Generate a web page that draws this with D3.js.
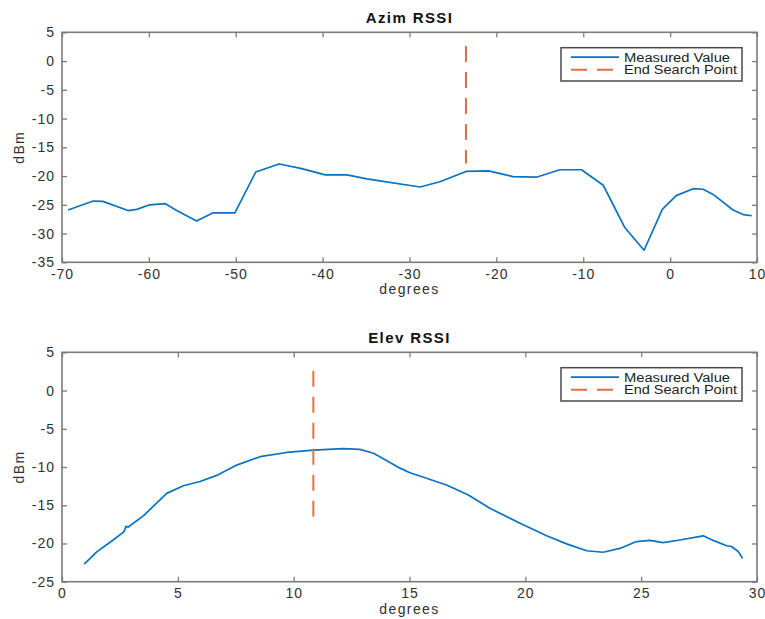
<!DOCTYPE html>
<html>
<head>
<meta charset="utf-8">
<script src="https://cdn.jsdelivr.net/npm/d3@7"></script>
<style>
  html, body { margin: 0; padding: 0; background: #fff; }
  svg { display: block; font-family: "Liberation Sans", Arial, Helvetica, sans-serif; }
</style>
</head>
<body>
<svg id="chart" width="765" height="619"></svg>
<script>
// Azimuth sweep: angle (degrees) and received signal strength (dBm)
const azimDeg = [-69.3, -66.4, -65.3, -62.4, -61.4, -59.9, -58.1, -56.8, -54.5, -52.6, -50.1,
                 -47.7, -45.0, -42.4, -39.7, -37.2, -34.9, -28.8, -26.5, -23.5, -20.9, -18.1,
                 -15.4, -12.7, -10.2, -7.7, -5.2, -3.0, -0.9, 0.7, 2.65, 3.8, 4.95, 7.25, 8.4, 9.4];
const azimRssi = [-25.9, -24.35, -24.4, -26.0, -25.8, -25.0, -24.8, -26.0, -27.8, -26.4, -26.4,
                  -19.3, -17.9, -18.7, -19.8, -19.8, -20.5, -21.9, -21.0, -19.2, -19.1, -20.1,
                  -20.2, -18.9, -18.9, -21.6, -29.0, -32.9, -25.8, -23.4, -22.2, -22.3, -23.2, -25.9, -26.7, -26.9];
const azimEndDeg = [-23.5, -23.5];
const azimEndRssi = [2.6, -17.8];

// Elevation sweep
const elevDeg = [0.96, 1.5, 2.21, 2.68, 2.76, 2.86, 3.51, 4.52, 5.24, 5.96, 6.68, 7.54, 8.55, 9.7,
                 10.85, 12.14, 12.86, 13.44, 13.72, 14.59, 15.02, 16.6, 17.54, 18.47, 19.77, 20.92,
                 21.78, 22.65, 23.36, 24.08, 24.8, 25.38, 25.95, 26.67, 27.68, 28.11, 28.69, 28.9, 29.19, 29.38];
const elevRssi = [-22.7, -21.1, -19.55, -18.45, -17.75, -17.85, -16.4, -13.45, -12.45, -11.9, -11.1, -9.75, -8.65, -8.1,
                  -7.8, -7.6, -7.7, -8.2, -8.65, -10.15, -10.75, -12.35, -13.65, -15.4, -17.35, -19.0,
                  -20.05, -20.95, -21.15, -20.65, -19.75, -19.6, -19.9, -19.55, -19.0, -19.6, -20.3, -20.4, -21.05, -21.95];
const elevEndDeg = [10.85, 10.85];
const elevEndRssi = [2.6, -16.5];

const azimXTicks = [-70, -60, -50, -40, -30, -20, -10, 0, 10];
const azimYTicks = [5, 0, -5, -10, -15, -20, -25, -30, -35];
const elevXTicks = [0, 5, 10, 15, 20, 25, 30];
const elevYTicks = [5, 0, -5, -10, -15, -20, -25];

const legendLabels = ["Measured Value", "End Search Point"];
const titles = ["Azim RSSI", "Elev RSSI"];
const xLabel = "degrees";
const yLabel = "dBm";

const BLUE = "#0a72c0";
const ORANGE = "#e2713f";
const FRAME = "#7a7a7a";
const TEXT = "#303030";

// plain hyphen-minus labels
const fmt = d => String(d);

const svg = d3.select("#chart");

const panels = [
  { title: titles[0], top: 32.3, bottom: 262.3, xDomain: [-70, 10], yDomain: [-35, 5],
    xTicks: azimXTicks, yTicks: azimYTicks, deg: azimDeg, rssi: azimRssi,
    endDeg: azimEndDeg, endRssi: azimEndRssi },
  { title: titles[1], top: 352.3, bottom: 581.7, xDomain: [0, 30], yDomain: [-25, 5],
    xTicks: elevXTicks, yTicks: elevYTicks, deg: elevDeg, rssi: elevRssi,
    endDeg: elevEndDeg, endRssi: elevEndRssi }
];

const left = 62, right = 757;

panels.forEach(p => {
  const x = d3.scaleLinear().domain(p.xDomain).range([left, right]);
  const y = d3.scaleLinear().domain(p.yDomain).range([p.bottom, p.top]);
  const g = svg.append("g");

  const styleAxis = sel => {
    sel.select(".domain").remove();
    sel.selectAll(".tick line").attr("stroke", FRAME).attr("stroke-width", 1.3);
    sel.selectAll(".tick text").attr("fill", TEXT).attr("font-size", 14)
      .attr("letter-spacing", "1px").attr("font-family", "Liberation Sans, Arial, sans-serif");
  };

  // bottom and left axes with labels; ticks point inward
  g.append("g").attr("transform", `translate(0,${p.bottom})`)
    .call(d3.axisBottom(x).tickValues(p.xTicks).tickFormat(fmt).tickSizeInner(-5).tickSizeOuter(0).tickPadding(6.5))
    .call(styleAxis);
  g.append("g").attr("transform", `translate(${left},0)`)
    .call(d3.axisLeft(y).tickValues(p.yTicks).tickFormat(fmt).tickSizeInner(-5).tickSizeOuter(0).tickPadding(7))
    .call(styleAxis);
  // top and right mirrored ticks without labels
  g.append("g").attr("transform", `translate(0,${p.top})`)
    .call(d3.axisTop(x).tickValues(p.xTicks).tickSizeInner(-5).tickSizeOuter(0).tickFormat(""))
    .call(styleAxis);
  g.append("g").attr("transform", `translate(${right},0)`)
    .call(d3.axisRight(y).tickValues(p.yTicks).tickSizeInner(-5).tickSizeOuter(0).tickFormat(""))
    .call(styleAxis);

  // axes box
  g.append("rect")
    .attr("x", left).attr("y", p.top)
    .attr("width", right - left).attr("height", p.bottom - p.top)
    .attr("fill", "none").attr("stroke", FRAME).attr("stroke-width", 1.6);

  // measured curve
  const line = d3.line().x(d => x(d[0])).y(d => y(d[1]));
  g.append("path")
    .datum(p.deg.map((d, i) => [d, p.rssi[i]]))
    .attr("d", line)
    .attr("fill", "none").attr("stroke", BLUE).attr("stroke-width", 1.7)
    .attr("stroke-linejoin", "round");

  // end search point marker
  g.append("path")
    .datum(p.endDeg.map((d, i) => [d, p.endRssi[i]]))
    .attr("d", line)
    .attr("fill", "none").attr("stroke", ORANGE).attr("stroke-width", 2)
    .attr("stroke-dasharray", "16,10");

  // title
  g.append("text")
    .attr("x", (left + right) / 2).attr("y", p.top - 9)
    .attr("text-anchor", "middle").attr("font-weight", "bold").attr("font-size", 15)
    .attr("letter-spacing", "1.4px").attr("fill", "#111")
    .text(p.title);

  // axis labels
  g.append("text")
    .attr("x", (left + right) / 2).attr("y", p.bottom + 32)
    .attr("text-anchor", "middle").attr("font-size", 14).attr("letter-spacing", "1.4px")
    .attr("fill", TEXT).text(xLabel);
  g.append("text")
    .attr("transform", `translate(24,${(p.top + p.bottom) / 2}) rotate(-90)`)
    .attr("text-anchor", "middle").attr("font-size", 14).attr("letter-spacing", "1.4px")
    .attr("fill", TEXT).text(yLabel);

  // legend
  const lx = 561, ly = p.top + 15.4, lw = 181, lh = 33.3;
  const leg = g.append("g");
  leg.append("rect").attr("x", lx).attr("y", ly).attr("width", lw).attr("height", lh)
    .attr("fill", "#fff").attr("stroke", "#4a4a4a").attr("stroke-width", 1.5);
  const rows = [
    { label: legendLabels[0], color: BLUE, dash: null, w: 1.7 },
    { label: legendLabels[1], color: ORANGE, dash: "16,10", w: 2 }
  ];
  rows.forEach((r, i) => {
    const cy = ly + 9.5 + i * 12.6;
    leg.append("line").attr("x1", lx + 10).attr("x2", lx + 58).attr("y1", cy).attr("y2", cy)
      .attr("stroke", r.color).attr("stroke-width", r.w)
      .attr("stroke-dasharray", r.dash);
    leg.append("text").attr("x", lx + 63).attr("y", cy + 4.3)
      .attr("font-size", 12.5).attr("fill", "#222")
      .attr("textLength", i === 0 ? 106 : 113).attr("lengthAdjust", "spacingAndGlyphs")
      .text(r.label);
  });
});
</script>
</body>
</html>
